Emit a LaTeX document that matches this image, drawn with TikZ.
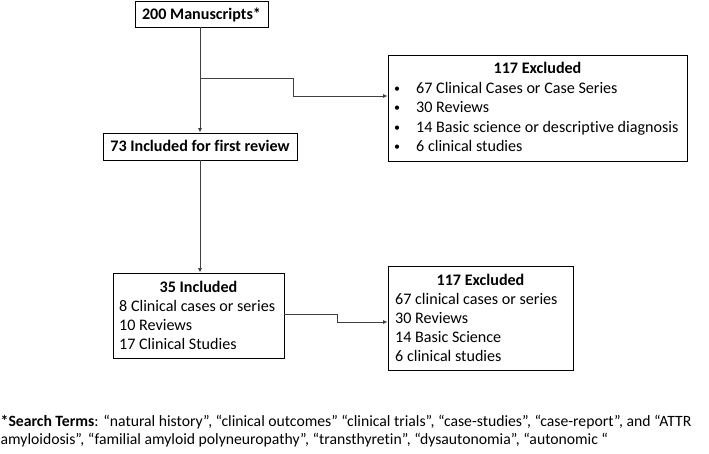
\documentclass[tikz,border=0pt]{standalone}
\usepackage{fontspec}
\setmainfont[Ligatures=NoCommon]{Carlito}
\usetikzlibrary{arrows.meta}
\begin{document}
\begin{tikzpicture}[x=1pt,y=-1pt,
  box/.style={draw=black,line width=0.9pt,inner sep=0pt},
  txt/.style={inner sep=0pt,font=\fontsize{16.1}{19}\selectfont},
  bul/.style={inner sep=0pt,font=\fontsize{12}{14}\selectfont},
  ttl/.style={inner sep=0pt,font=\fontsize{16.1}{19}\selectfont\bfseries},
  foot/.style={inner sep=0pt,font=\fontsize{15.7}{18}\selectfont},
  conn/.style={draw=black!75,line width=0.8pt},
  arr/.style={conn,-{Latex[length=4.5pt,width=4pt]}}]
\useasboundingbox (0,0) rectangle (709,454);
% boxes
\node[box,minimum width=133pt,minimum height=26pt] (A) at (201.5,14) {};
\node[box,minimum width=194pt,minimum height=27pt] (B) at (200,146.5) {};
\node[box,minimum width=299pt,minimum height=106pt] (C) at (537.5,108) {};
\node[box,minimum width=171pt,minimum height=85pt] (D) at (198.5,315.5) {};
\node[box,minimum width=185pt,minimum height=104pt] (E) at (480.5,318) {};
% texts
\node[ttl,anchor=base] (At) at (201.5,20) {200 Manuscripts*};
\node[ttl,anchor=base] (Bt) at (200,152) {73 Included for first review};
\node[ttl,anchor=base] (Ct) at (537.5,73.5) {117 Excluded};
\foreach \yy/\tt [count=\i] in {93.5/67 Clinical Cases or Case Series,113/30 Reviews,132.5/14 Basic science or descriptive diagnosis,152/6 clinical studies}{
  \node[bul,anchor=base] (Cb\i) at (397,\yy-1) {•};
  \node[txt,anchor=base west] (Cl\i) at (416,\yy) {\tt};
}
\node[ttl,anchor=base] (Dt) at (198.5,292) {35 Included};
\node[txt,anchor=base west] (D1) at (119,311) {8 Clinical cases or series};
\node[txt,anchor=base west] (D2) at (119,330) {10 Reviews};
\node[txt,anchor=base west] (D3) at (119,349) {17 Clinical Studies};
\node[ttl,anchor=base] (Et) at (480.5,285) {117 Excluded};
\node[txt,anchor=base west] (E1) at (395,304) {67 clinical cases or series};
\node[txt,anchor=base west] (E2) at (395,323) {30 Reviews};
\node[txt,anchor=base west] (E3) at (395,342) {14 Basic Science};
\node[txt,anchor=base west] (E4) at (395,361) {6 clinical studies};
% footnote
\node[foot,anchor=base west] (F1) at (0.5,426.5) {\textbf{*Search Terms}: “natural history”, “clinical outcomes” “clinical trials”, “case-studies”, “case-report”, and “ATTR};
\node[foot,anchor=base west] (F2) at (0.5,444.5) {amyloidosis”, “familial amyloid polyneuropathy”, “transthyretin”, “dysautonomia”, “autonomic “};
% connectors
\coordinate (j1) at (200,78);
\coordinate (j2) at (293,78);
\coordinate (j3) at (293,96);
\draw[arr] (200,0 |- A.south) -- (200,0 |- B.north);
\draw[conn] (j1) -- (j2) -- (j3);
\draw[arr] (j3) -- (j3 -| C.west);
\draw[arr] (200,0 |- B.south) -- (200,0 |- D.north);
\coordinate (k1) at (337,314);
\coordinate (k2) at (337,322);
\draw[conn] (k1 -| D.east) -- (k1) -- (k2);
\draw[arr] (k2) -- (k2 -| E.west);
\end{tikzpicture}
\end{document}
